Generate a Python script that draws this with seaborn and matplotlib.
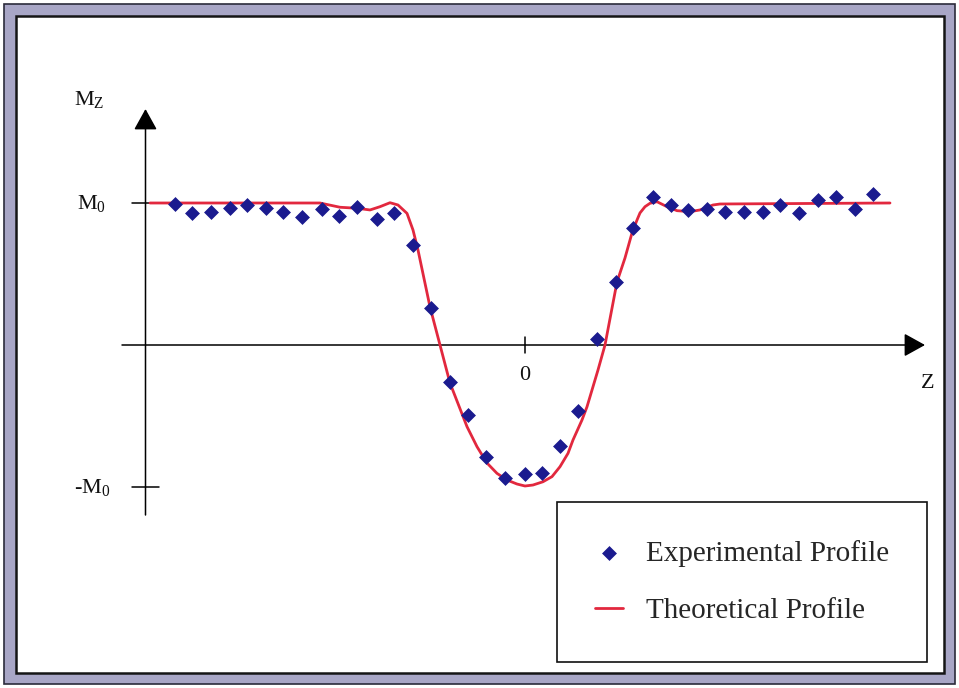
import matplotlib
matplotlib.use('Agg')
import matplotlib.pyplot as plt
import seaborn as sns
import pandas as pd
from matplotlib.patches import Rectangle

# ---- data (z in arbitrary units, 0 at the centre; M in units of M0) ----
exp_z = [-35.0, -33.3, -31.4, -29.5, -27.8, -25.9, -24.2, -22.3, -20.3, -18.6,
         -16.8, -14.8, -13.1, -11.2, -9.4, -7.5, -5.7, -3.9, -2.0, 0.0,
         1.7, 3.5, 5.3, 7.2, 9.1, 10.8, 12.8, 14.6, 16.3, 18.2,
         20.0, 21.9, 23.8, 25.5, 27.4, 29.3, 31.1, 33.0, 34.8]
exp_m = [0.993, 0.927, 0.939, 0.967, 0.986, 0.963, 0.939, 0.899, 0.956, 0.911,
         0.970, 0.885, 0.927, 0.704, 0.263, -0.258, -0.493, -0.787, -0.935, -0.908,
         -0.899, -0.709, -0.465, 0.040, 0.442, 0.822, 1.040, 0.986, 0.951, 0.956,
         0.939, 0.939, 0.939, 0.986, 0.927, 1.021, 1.040, 0.956, 1.063]

theo_z = [-37.5, -20.5, -18.5, -16.8, -15.5, -14.5, -13.5, -12.7, -11.8, -11.2,
          -10.7, -9.5, -8.5, -7.5, -5.8, -4.8, -3.8, -2.8, -1.8, -0.8,
          0.0, 0.8, 1.8, 2.7, 3.5, 4.3, 4.8, 5.7, 6.2, 7.3,
          8.0, 9.2, 10.0, 10.7, 11.2, 11.5, 12.0, 12.5, 13.2, 14.2,
          15.2, 16.5, 17.5, 18.8, 19.5, 36.5]
theo_m = [1.0, 1.0, 0.970, 0.963, 0.951, 0.974, 1.002, 0.986, 0.927, 0.810,
          0.669, 0.268, 0.0, -0.268, -0.575, -0.716, -0.831, -0.904, -0.951, -0.979,
          -0.993, -0.986, -0.963, -0.927, -0.857, -0.763, -0.669, -0.528, -0.435, -0.176,
          0.0, 0.444, 0.613, 0.789, 0.880, 0.930, 0.974, 0.998, 1.009, 0.974,
          0.946, 0.939, 0.951, 0.986, 0.993, 1.0]

series_labels = ['Experimental Profile', 'Theoretical Profile']
y_tick_values = [1.0, -1.0]
y_tick_labels = [r'M$_\mathrm{0}$', r'-M$_\mathrm{0}$']
x_tick_values = [0.0]
x_tick_labels = ['0']
y_axis_label = r'M$_\mathrm{Z}$'
x_axis_label = 'Z'

# ---- style ----
sns.set_theme(style='white')
plt.rcParams['font.family'] = ['Liberation Serif', 'DejaVu Serif']
plt.rcParams['mathtext.fontset'] = 'custom'
plt.rcParams['mathtext.rm'] = 'Liberation Serif'
plt.rcParams['mathtext.it'] = 'Liberation Serif:italic'

NAVY = '#1b1b8f'
RED = '#e2283e'
W, H = 959, 688

fig = plt.figure(figsize=(W / 100, H / 100), dpi=100)
fig.patch.set_facecolor('white')


def fx(px):
    return px / W


def fy(py):
    return 1 - py / H


# grey-lavender picture frame (behind the axes)
fig.patches.append(Rectangle((fx(4), fy(684)), fx(955) - fx(4), fy(4) - fy(684),
                             transform=fig.transFigure, facecolor='#a8a6c6',
                             edgecolor='#2b2b3b', lw=1.2, zorder=-3))
fig.patches.append(Rectangle((fx(16), fy(673)), fx(944) - fx(16), fy(16) - fy(673),
                             transform=fig.transFigure, facecolor='white',
                             edgecolor='#151515', lw=1.8, zorder=-2))

ax = fig.add_axes([0, 0, 1, 1])
ax.set_zorder(1)
ax.set_facecolor('none')
ax.patch.set_alpha(0)
ax.set_xlim((0 - 525) / 10, (W - 525) / 10)
ax.set_ylim((345 - H) / 142, (345 - 0) / 142)
ax.axis('off')

exp_df = pd.DataFrame({'z': exp_z, 'M': exp_m})
theo_df = pd.DataFrame({'z': theo_z, 'M': theo_m})

sns.lineplot(data=theo_df, x='z', y='M', ax=ax, color=RED, lw=2.0,
             estimator=None, sort=False, label=series_labels[1], zorder=3)
ax.lines[-1].set_solid_joinstyle('round')
sns.scatterplot(data=exp_df, x='z', y='M', ax=ax, marker='D', s=50,
                color=NAVY, edgecolor=NAVY, linewidth=0.5,
                label=series_labels[0], zorder=4)

# ---- hand-drawn style axes with arrows ----
arrow_kw = dict(arrowstyle='-|>,head_length=1.3,head_width=0.72',
                mutation_scale=10, color='black', lw=1.1,
                shrinkA=0, shrinkB=0)
y_ax_x = (145.5 - 525) / 10
ax.annotate('', xy=(y_ax_x, (345 - 109) / 142), xytext=(y_ax_x, (345 - 515) / 142),
            arrowprops=arrow_kw, zorder=2)
ax.annotate('', xy=((925 - 525) / 10, 0), xytext=((122 - 525) / 10, 0),
            arrowprops=arrow_kw, zorder=2)

# y ticks
for v, lab in zip(y_tick_values, y_tick_labels):
    ax.plot([(131.5 - 525) / 10, (159 - 525) / 10], [v, v], color='black', lw=1.1, zorder=2)
    ax.text((92 - 525) / 10, v, lab, ha='center', va='center', fontsize=16, color='#111111')
# x ticks
for v, lab in zip(x_tick_values, x_tick_labels):
    ax.plot([v, v], [8 / 142, -8 / 142], color='black', lw=1.1, zorder=2)
    ax.text(v, -30 / 142, lab, ha='center', va='center', fontsize=16, color='#111111')

ax.text((89 - 525) / 10, (345 - 100) / 142, y_axis_label, ha='center', va='center',
        fontsize=16, color='#111111')
ax.text((928 - 525) / 10, (345 - 383) / 142, x_axis_label, ha='center', va='center',
        fontsize=16, color='#111111')

handles, labels = ax.get_legend_handles_labels()
order = [labels.index(s) for s in series_labels]
leg = ax.legend([handles[i] for i in order], [labels[i] for i in order],
                loc='upper left', bbox_to_anchor=(fx(557), fy(502)),
                bbox_transform=fig.transFigure, borderaxespad=0,
                fontsize=21, frameon=True, fancybox=False, framealpha=1,
                edgecolor='#111111', borderpad=1.3, labelspacing=1.05,
                handlelength=0.95, handletextpad=0.8, markerscale=1.0)
leg.get_frame().set_linewidth(1.2)
leg.set_zorder(5)

fig.savefig('out.png', dpi=100, facecolor='white')
